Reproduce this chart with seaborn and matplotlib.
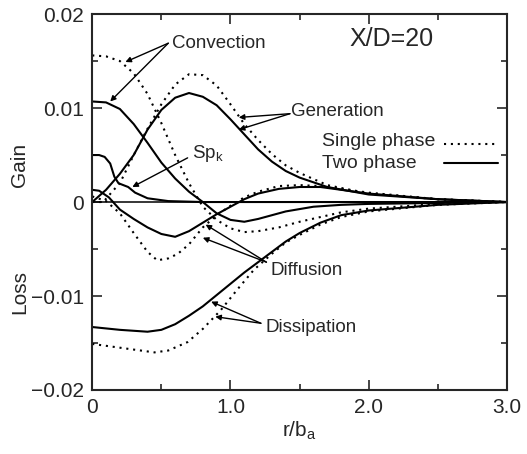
import numpy as np
import pandas as pd
import matplotlib
matplotlib.use('Agg')
import matplotlib.pyplot as plt
from matplotlib.lines import Line2D
import seaborn as sns

# turbulent kinetic energy budget at X/D=20
conv_two_r = [0, 0.1, 0.2, 0.3, 0.4, 0.5, 0.6, 0.7, 0.8, 0.9, 1.0, 1.1, 1.2, 1.4, 1.6, 1.8, 2.0, 2.5, 3.0]
conv_two = [0.0107, 0.0106, 0.0099, 0.0083, 0.0063, 0.0042, 0.0025, 0.0011, 0.0, -0.0012, -0.0019, -0.0021,
            -0.0018, -0.0010, -0.0005, -0.0003, -0.0002, -0.0001, 0.0]
conv_one_r = [0, 0.1, 0.2, 0.3, 0.4, 0.5, 0.6, 0.7, 0.8, 0.9, 1.0, 1.1, 1.2, 1.35, 1.5, 1.65, 1.8, 2.0, 2.5, 3.0]
conv_one = [0.0156, 0.0155, 0.0150, 0.0137, 0.0115, 0.0084, 0.0050, 0.0020, -0.0005, -0.0019, -0.0028, -0.0032,
            -0.0031, -0.0027, -0.0021, -0.0016, -0.0011, -0.0007, -0.0002, 0.0]

gen_two_r = [0, 0.1, 0.2, 0.3, 0.4, 0.5, 0.6, 0.7, 0.8, 0.9, 1.0, 1.1, 1.2, 1.3, 1.4, 1.5, 1.7, 2.0, 2.5, 3.0]
gen_two = [0.0, 0.0013, 0.0030, 0.0050, 0.0077, 0.0098, 0.0111, 0.0116, 0.0112, 0.0103, 0.0088, 0.0072,
           0.0056, 0.0043, 0.0033, 0.0026, 0.0016, 0.0008, 0.0003, 0.0]
gen_one_r = [0, 0.08, 0.15, 0.2, 0.3, 0.4, 0.5, 0.6, 0.7, 0.8, 0.9, 1.0, 1.1, 1.2, 1.3, 1.4, 1.5, 1.7, 2.0, 2.5, 3.0]
gen_one = [0.0, 0.0, 0.0012, 0.0020, 0.0050, 0.0078, 0.0104, 0.0125, 0.0136, 0.0135, 0.0124, 0.0104, 0.0083,
           0.0066, 0.0051, 0.0039, 0.0031, 0.0018, 0.0009, 0.0003, 0.0]

spk_r = [0, 0.05, 0.09, 0.13, 0.16, 0.19, 0.26, 0.31, 0.4, 0.55, 0.8, 3.0]
spk = [0.0050, 0.0050, 0.0048, 0.0041, 0.0027, 0.0020, 0.0016, 0.0010, 0.0004, 0.0001, 0.0, 0.0]

diff_two_r = [0, 0.05, 0.12, 0.2, 0.3, 0.4, 0.5, 0.6, 0.7, 0.8, 0.9, 1.0, 1.1, 1.2, 1.35, 1.5, 1.65, 1.8, 2.0, 2.5, 3.0]
diff_two = [0.0013, 0.0012, 0.0005, -0.0008, -0.0018, -0.0027, -0.0034, -0.0037, -0.0031, -0.0022, -0.0013,
            -0.0005, 0.0003, 0.0009, 0.0014, 0.0016, 0.0016, 0.0013, 0.0009, 0.0003, 0.0]
diff_one_r = [0, 0.1, 0.2, 0.3, 0.4, 0.47, 0.55, 0.62, 0.7, 0.8, 0.9, 1.0, 1.1, 1.2, 1.35, 1.5, 1.65, 1.8, 2.0, 2.5, 3.0]
diff_one = [0.0006, 0.0001, -0.0012, -0.0033, -0.0053, -0.0062, -0.0060, -0.0055, -0.0045, -0.0027, -0.0014,
            -0.0004, 0.0005, 0.0011, 0.0017, 0.0018, 0.0017, 0.0014, 0.0010, 0.0003, 0.0]

diss_two_r = [0, 0.2, 0.4, 0.5, 0.6, 0.7, 0.8, 0.9, 1.0, 1.1, 1.2, 1.3, 1.4, 1.5, 1.65, 1.8, 2.0, 2.5, 3.0]
diss_two = [-0.0133, -0.0136, -0.0138, -0.0136, -0.0130, -0.0121, -0.0111, -0.0099, -0.0087, -0.0075, -0.0064,
            -0.0053, -0.0042, -0.0033, -0.0022, -0.0014, -0.0009, -0.0003, 0.0]
diss_one_r = [0, 0.2, 0.45, 0.55, 0.69, 0.8, 0.93, 1.05, 1.17, 1.3, 1.4, 1.5, 1.65, 1.8, 2.0, 2.5, 3.0]
diss_one = [-0.0151, -0.0155, -0.0160, -0.0158, -0.0149, -0.0135, -0.0115, -0.0093, -0.0072, -0.0055, -0.0043,
            -0.0035, -0.0024, -0.0016, -0.0010, -0.0003, 0.0]

series = [
    ('Convection', 'Two phase', conv_two_r, conv_two),
    ('Convection', 'Single phase', conv_one_r, conv_one),
    ('Generation', 'Two phase', gen_two_r, gen_two),
    ('Generation', 'Single phase', gen_one_r, gen_one),
    ('Spk', 'Two phase', spk_r, spk),
    ('Diffusion', 'Two phase', diff_two_r, diff_two),
    ('Diffusion', 'Single phase', diff_one_r, diff_one),
    ('Dissipation', 'Two phase', diss_two_r, diss_two),
    ('Dissipation', 'Single phase', diss_one_r, diss_one),
]

frames = []
for term, phase, r, v in series:
    frames.append(pd.DataFrame({'r': r, 'value': v, 'term': term, 'phase': phase,
                                'curve': term + ' ' + phase}))
df = pd.concat(frames, ignore_index=True)

dot = (1, 2.3)

sns.set_style('ticks')
plt.rcParams['font.family'] = ['Liberation Sans', 'DejaVu Sans']
plt.rcParams['mathtext.fontset'] = 'custom'
plt.rcParams['mathtext.rm'] = 'Liberation Sans'
plt.rcParams['mathtext.it'] = 'Liberation Sans'

fig = plt.figure(figsize=(5.27, 4.54), dpi=100)
ax = fig.add_axes([0.175, 0.141, 0.787, 0.828])

sns.lineplot(data=df, x='r', y='value', units='curve', estimator=None, style='phase',
             dashes={'Two phase': '', 'Single phase': dot}, color='black',
             linewidth=1.5, legend=False, ax=ax, sort=True)

ax.axhline(0, color='black', linewidth=1.1)

ax.set_xlim(0, 3.0)
ax.set_ylim(-0.02, 0.02)
ax.set_xticks([0, 1.0, 2.0, 3.0])
ax.set_xticklabels(['0', '1.0', '2.0', '3.0'])
ax.set_xticks([0.5, 1.5, 2.5], minor=True)
ax.set_yticks([-0.02, -0.01, 0, 0.01, 0.02])
ax.set_yticklabels(['\u22120.02', '\u22120.01', '0', '0.01', '0.02'])
ax.set_yticks([-0.015, -0.005, 0.005, 0.015], minor=True)
ax.tick_params(which='both', direction='in', top=True, right=True, labelsize=15, width=1.2)
ax.tick_params(which='major', length=7, pad=6)
ax.tick_params(which='minor', length=4)
for s in ax.spines.values():
    s.set_linewidth(1.5)

ax.set_xlabel('r/b$_a$', fontsize=15, labelpad=2)
ax.set_ylabel('')
ax.text(-0.175, 0.6, 'Gain', transform=ax.transAxes, rotation=90, fontsize=15, va='center', ha='center')
ax.text(-0.175, 0.26, 'Loss', transform=ax.transAxes, rotation=90, fontsize=15, va='center', ha='center')

ax.text(1.86, 0.0173, 'X/D=20', fontsize=18, va='center', ha='left')

arrow = dict(arrowstyle='-|>', color='black', lw=1.0, mutation_scale=8, shrinkA=0, shrinkB=0)
tfs = 13.5

def label_with_arrows(text, txy, tails, heads, ha='left'):
    ax.text(txy[0], txy[1], text, fontsize=tfs, va='center', ha=ha)
    for tail, head in zip(tails, heads):
        ax.annotate('', xy=head, xytext=tail, arrowprops=arrow)

label_with_arrows('Convection', (0.575, 0.0169), [(0.55, 0.0169), (0.55, 0.0169)],
                  [(0.24, 0.0149), (0.13, 0.0107)])
label_with_arrows('Generation', (1.44, 0.0096), [(1.43, 0.0094), (1.43, 0.0094)],
                  [(1.06, 0.0090), (1.06, 0.0077)])
label_with_arrows('Sp$_k$', (0.72, 0.0052), [(0.69, 0.0047)], [(0.29, 0.0016)])
label_with_arrows('Diffusion', (1.29, -0.0073), [(1.26, -0.0064), (1.26, -0.0064)],
                  [(0.82, -0.0024), (0.80, -0.0038)])
label_with_arrows('Dissipation', (1.25, -0.0134), [(1.22, -0.0129), (1.22, -0.0129)],
                  [(0.86, -0.0106), (0.89, -0.0122)])

# legend: text on the left, line sample on the right
ax.text(1.66, 0.0064, 'Single phase', fontsize=14, va='center', ha='left')
ax.text(1.66, 0.0041, 'Two phase', fontsize=14, va='center', ha='left')
handles = [Line2D([], [], color='black', lw=1.5, dashes=dot),
           Line2D([], [], color='black', lw=1.5)]
ax.legend(handles, ['', ''], loc='upper right', bbox_to_anchor=(1.0, 0.697),
          frameon=False, fontsize=14, handlelength=2.8, handletextpad=0.0,
          labelspacing=0.1, borderaxespad=0.05)

fig.savefig('out.png', dpi=100)
